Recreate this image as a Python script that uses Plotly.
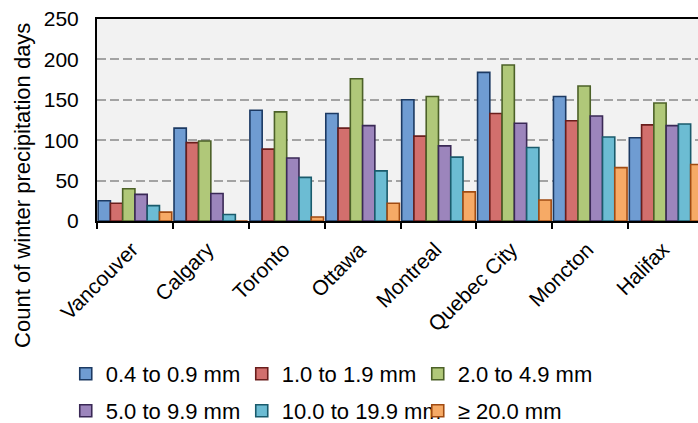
import plotly.graph_objects as go

# Winter precipitation day counts by city and daily-amount class
cities = ["Vancouver", "Calgary", "Toronto", "Ottawa", "Montreal",
          "Quebec City", "Moncton", "Halifax"]

classes = ["0.4 to 0.9 mm", "1.0 to 1.9 mm", "2.0 to 4.9 mm",
           "5.0 to 9.9 mm", "10.0 to 19.9 mm", "≥ 20.0 mm"]

days_0p4_0p9 = [25, 115, 137, 133, 150, 184, 154, 103]
days_1p0_1p9 = [22, 97, 89, 115, 105, 133, 124, 119]
days_2p0_4p9 = [40, 99, 135, 176, 154, 193, 167, 146]
days_5p0_9p9 = [33, 34, 78, 118, 93, 121, 130, 118]
days_10_19p9 = [19, 8, 54, 62, 79, 91, 104, 120]
days_ge_20 = [11, 0, 5, 22, 36, 26, 66, 70]

series = [days_0p4_0p9, days_1p0_1p9, days_2p0_4p9,
          days_5p0_9p9, days_10_19p9, days_ge_20]

fills = ["#6F9CD2", "#D26F6D", "#B0C879", "#9C85BC", "#6CBCD3", "#F6AA66"]
edges = ["#1C3A63", "#6A1E1C", "#4C6128", "#3A2956", "#1A5B6C", "#A04B12"]

# legend rows: first three classes on top row, last three below
legend_rows = ["legend", "legend", "legend", "legend2", "legend2", "legend2"]

font_family = "Liberation Sans, Arial, sans-serif"

fig = go.Figure()
for name, vals, fc, ec, lg in zip(classes, series, fills, edges, legend_rows):
    fig.add_trace(go.Bar(
        x=cities, y=vals, name=name, legend=lg,
        marker=dict(color=fc, line=dict(color=ec, width=1.6)),
    ))

legend_style = dict(
    orientation="h",
    xanchor="left", yanchor="top",
    entrywidth=131, entrywidthmode="pixels",
    itemwidth=30,
    font=dict(size=22, family=font_family, color="black"),
    bgcolor="rgba(0,0,0,0)",
    itemclick=False,
)

fig.update_layout(
    width=698, height=423,
    margin=dict(l=97, r=0, t=19, b=202, pad=0, autoexpand=False),
    paper_bgcolor="white",
    plot_bgcolor="#F2F2F2",
    barmode="group",
    bargap=0.03,
    bargroupgap=0,
    font=dict(family=font_family, color="black", size=21),
    showlegend=True,
    legend=dict(legend_style, x=-0.052, y=-0.6535),
    legend2=dict(legend_style, x=-0.052, y=-0.8366),
    xaxis=dict(
        type="category",
        range=[-0.5, 7.42],
        showline=True, linecolor="black", linewidth=2,
        mirror=True,
        ticks="outside", tickson="boundaries",
        ticklen=6, tickwidth=2, tickcolor="black",
        tickangle=-45,
        ticklabelstandoff=6,
        ticklabelshift=-3,
        tickfont=dict(size=21),
        showgrid=False,
        zeroline=False,
    ),
    yaxis=dict(
        range=[0, 250],
        dtick=50,
        showline=True, linecolor="black", linewidth=2,
        ticks="",
        ticklabelstandoff=12,
        tickfont=dict(size=21),
        showgrid=True, gridcolor="#A3A3A3", gridwidth=1.5,
        griddash="9px,4px",
        zeroline=False,
    ),
    annotations=[dict(
        text="Count of winter precipitation days",
        textangle=-90,
        xref="paper", yref="paper",
        x=-0.125, y=0.178,
        xanchor="center", yanchor="middle",
        showarrow=False,
        font=dict(size=22, family=font_family, color="black"),
    )],
)

fig.write_html("out.html")
